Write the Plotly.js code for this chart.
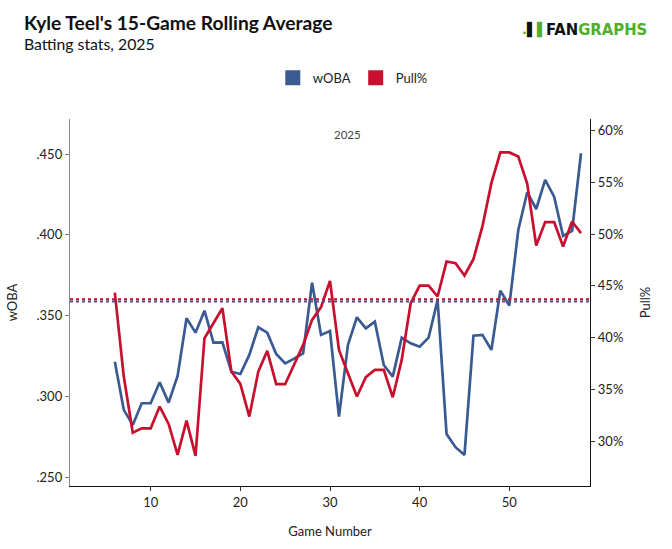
<!DOCTYPE html>
<html>
<head>
<meta charset="utf-8">
<script src="https://cdn.plot.ly/plotly-3.0.1.min.js"></script>
<style>html,body{margin:0;padding:0;background:#fff;}#chart{width:672px;height:549px;}</style>
</head>
<body>
<div id="chart"></div>
<script>
const games = [6,7,8,9,10,11,12,13,14,15,16,17,18,19,20,21,22,23,24,25,26,27,28,29,30,31,32,33,34,35,36,37,38,39,40,41,42,43,44,45,46,47,48,49,50,51,52,53,54,55,56,57,58];
const woba = [.3215,.2917,.2824,.2958,.2958,.3088,.2962,.3127,.3484,.3395,.3531,.3333,.3335,.3153,.3139,.3257,.3428,.3395,.3263,.3205,.3234,.3267,.3704,.3381,.3405,.2875,.3319,.3490,.3422,.3463,.3195,.3123,.3364,.3329,.3308,.3364,.3597,.2768,.2686,.2638,.3376,.3381,.3288,.3655,.3562,.4030,.4264,.4160,.4340,.4236,.3993,.4024,.4505];
const pullPct = [44.35,36.23,30.81,31.23,31.23,33.33,31.65,28.66,31.97,28.56,39.94,41.39,42.84,36.71,35.52,32.36,36.71,38.71,35.49,35.49,37.36,39.29,41.71,42.94,45.48,38.81,36.56,34.30,36.17,36.88,36.88,34.23,37.84,43.32,45.03,45.03,43.97,47.35,47.19,46.00,47.58,50.74,54.93,57.90,57.90,57.50,54.86,48.90,51.16,51.16,48.80,51.22,50.10];
const wobaAvg = 0.3587;
const pullAvg = 43.71;
const wobaTicks = [0.25,0.30,0.35,0.40,0.45];
const wobaTickLabels = ['.250','.300','.350','.400','.450'];
const pullTicks = [30,35,40,45,50,55,60];
const pullTickLabels = ['30%','35%','40%','45%','50%','55%','60%'];
const xTicks = [10,20,30,40,50];
const seasonLabel = '2025';

const blue = '#3a5a92';
const red = '#c8102e';
const font = 'Lato, "Open Sans", sans-serif';

const traces = [
  {x: games, y: woba, type: 'scatter', mode: 'lines', name: 'wOBA', line: {color: blue, width: 2.7}, yaxis: 'y', showlegend: false},
  {x: games, y: pullPct, type: 'scatter', mode: 'lines', name: 'Pull%', line: {color: red, width: 2.7}, yaxis: 'y2', showlegend: false},
  {x: [null], y: [null], type: 'scatter', mode: 'markers', name: 'wOBA', marker: {symbol: 'square', size: 15, color: blue}, yaxis: 'y', showlegend: true},
  {x: [null], y: [null], type: 'scatter', mode: 'markers', name: 'Pull%', marker: {symbol: 'square', size: 15, color: red}, yaxis: 'y2', showlegend: true}
];

const layout = {
  width: 672, height: 549,
  margin: {l: 70, r: 82, t: 119, b: 63},
  paper_bgcolor: '#fff', plot_bgcolor: '#fff',
  font: {family: font, size: 13, color: '#222'},
  showlegend: true,
  legend: {orientation: 'h', x: 0.39, xanchor: 'left', y: 1.112, yanchor: 'middle', font: {size: 13, color: '#222'}, itemwidth: 30, traceorder: 'normal'},
  xaxis: {range: [1, 59], tickvals: xTicks, ticks: 'outside', ticklen: 4, tickcolor: '#333', showgrid: false, zeroline: false,
          showline: true, linecolor: '#111', linewidth: 1.2, title: {text: 'Game Number', font: {size: 13}, standoff: 18}, tickfont: {size: 13}},
  yaxis: {range: [0.2446, 0.4717], tickvals: wobaTicks, ticktext: wobaTickLabels, ticks: 'outside', ticklen: 4, tickcolor: '#777',
          showgrid: false, zeroline: false, showline: true, linecolor: '#888', linewidth: 1.2,
          title: {text: 'wOBA', font: {size: 13}, standoff: 16}, tickfont: {size: 13}},
  yaxis2: {range: [25.65, 61.13], tickvals: pullTicks, ticktext: pullTickLabels, overlaying: 'y', side: 'right', ticks: 'outside', ticklen: 4, tickcolor: '#333',
           showgrid: false, zeroline: false, showline: true, linecolor: '#111', linewidth: 1.2,
           title: {text: 'Pull%', font: {size: 13}, standoff: 18}, tickfont: {size: 13}},
  shapes: [
    {type: 'line', xref: 'paper', x0: 0, x1: 1, yref: 'y', y0: wobaAvg, y1: wobaAvg, line: {color: blue, width: 2, dash: 'dot'}},
    {type: 'line', xref: 'paper', x0: 0, x1: 1, yref: 'y2', y0: pullAvg, y1: pullAvg, line: {color: red, width: 2, dash: 'dot'}}
  ],
  annotations: [
    {text: '<b>Kyle Teel\'s 15-Game Rolling Average</b>', xref: 'paper', yref: 'paper', x: -0.0923, y: 1.264, xanchor: 'left', yanchor: 'middle', showarrow: false, font: {size: 19.2, color: '#111', family: font}},
    {text: 'Batting stats, 2025', xref: 'paper', yref: 'paper', x: -0.0923, y: 1.205, xanchor: 'left', yanchor: 'middle', showarrow: false, font: {size: 15.8, color: '#111', family: font}},
    {text: '<b>FAN<span style="color:#4fae2b">GRAPHS</span></b>', xref: 'paper', yref: 'paper', x: 1.1135, y: 1.245, xanchor: 'right', yanchor: 'middle', showarrow: false, font: {size: 16.5, color: '#111', family: '"Liberation Sans Narrow", "DejaVu Sans Condensed", Arial, sans-serif'}},
    {text: '<b>.<span style="color:#111">\u258C</span>\u258C</b>', xref: 'paper', yref: 'paper', x: 0.921, y: 1.245, xanchor: 'right', yanchor: 'middle', showarrow: false, font: {size: 13, color: '#4fae2b', family: '"DejaVu Sans", sans-serif'}},
    {text: seasonLabel, x: 32, xref: 'x', yref: 'paper', y: 0.957, xanchor: 'center', yanchor: 'middle', showarrow: false, font: {size: 11.5, color: '#444', family: font}}
  ]
};

Plotly.newPlot('chart', traces, layout, {displayModeBar: false, staticPlot: true});
</script>
</body>
</html>
